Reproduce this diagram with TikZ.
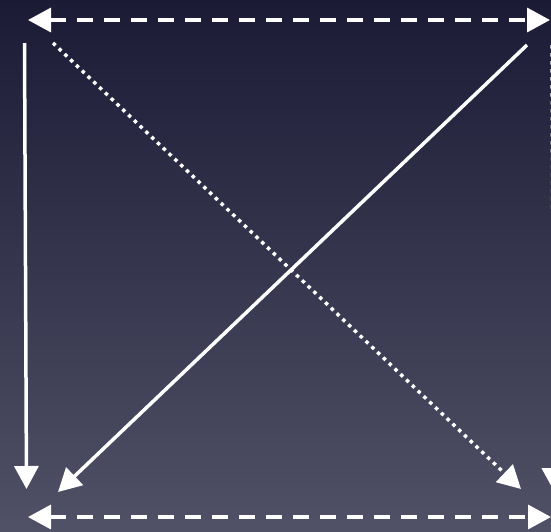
\documentclass[tikz,border=0pt]{standalone}
\usetikzlibrary{arrows.meta}
\definecolor{bgtop}{RGB}{27,27,54}
\definecolor{bgbot}{RGB}{80,80,102}
\tikzset{
  arr/.style={draw=white, line width=3.5pt, line cap=butt,
    -{Triangle[length=23pt,width=24pt]}},
  dbl/.style={arr, {Triangle[length=23pt,width=24pt]}-{Triangle[length=23pt,width=24pt]}},
  longdash/.style={dash pattern=on 16pt off 11pt},
  dots/.style={dash pattern=on 3.5pt off 4.5pt}
}
\begin{document}
\begin{tikzpicture}[x=1pt,y=-1pt]
\shade[top color=bgtop, bottom color=bgbot] (0,0) rectangle (551,531);
\useasboundingbox (0,0) rectangle (551,531);
% points
\coordinate (tl) at (28,20);
\coordinate (tr) at (550,20);
\coordinate (bl) at (28,517);
\coordinate (br) at (551,517);
\coordinate (lvs) at (24.5,43);
\coordinate (lve) at (26.5,489);
\coordinate (sds) at (527,45);
\coordinate (sde) at (58,492);
\coordinate (dds) at (53,43);
\coordinate (dde) at (521,489);
\coordinate (rvs) at (552,45);
\coordinate (rve) at (554,491);
% connectors
\draw[dbl, longdash] (tl) -- (tr);
\draw[dbl, longdash] (bl) -- (br);
\draw[arr] (lvs) -- (lve);
\draw[arr] (sds) -- (sde);
\draw[arr, dots] (dds) -- (dde);
\draw[arr, dots] (rvs) -- (rve);
\end{tikzpicture}
\end{document}
